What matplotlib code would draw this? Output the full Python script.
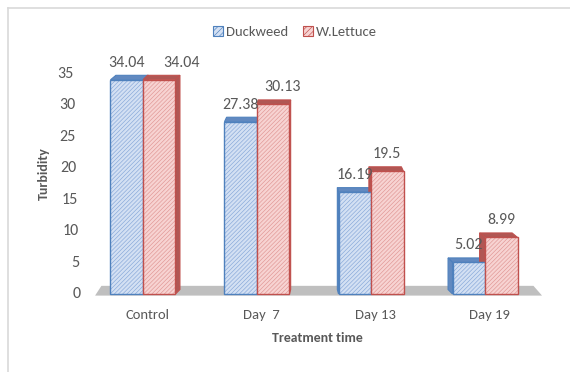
import matplotlib.pyplot as plt
from matplotlib.patches import Polygon, Rectangle
from matplotlib.lines import Line2D
import numpy as np

# turbidity per treatment time
categories = ["Control", "Day  7", "Day 13", "Day 19"]
duckweed = [34.04, 27.38, 16.19, 5.02]
lettuce = [34.04, 30.13, 19.5, 8.99]
series_names = ["Duckweed", "W.Lettuce"]
yticks = [0, 5, 10, 15, 20, 25, 30, 35]

plt.rcParams['hatch.linewidth'] = 0.45
plt.rcParams['font.family'] = ['Calibri', 'Carlito', 'Lato', 'DejaVu Sans']
txt = '#595959'

# front fill, hatch colour, edge colour, dark face colour
styles = [("#d3e0f3", "#86a7d8", "#4f81bd", "#6189c0"),
          ("#f7d3d2", "#e09593", "#c0504d", "#b05754")]

fig = plt.figure(figsize=(5.7, 3.72), dpi=100)
W, H = 570, 372
ax = fig.add_axes([92 / W, 1 - 300 / H, 444 / W, 230 / H])
ax.set_xlim(-0.447, 3.447)
ax.set_ylim(-0.95, 35.6)
ax.axis('off')

# pixels -> data units
sx = 444 / (3.447 + 0.447)
sy = 230 / (35.6 + 0.95)
xc = 1.5
k = 3.3          # px of sideways depth shift per category away from centre
dpy = 4.5 / sy   # vertical depth of bar tops

# floor
fx0, fx1 = -0.42, 3.5
floor = Polygon([(fx0, -0.25), (fx1, -0.25),
                 (fx1 + k * (xc - fx1) / sx * 1.3, 1.3),
                 (fx0 + k * (xc - fx0) / sx, 1.3)],
                closed=True, fc="#bfbfbf", ec='none', clip_on=False, zorder=1)
ax.add_patch(floor)

x = np.arange(len(categories))
w = 0.285
label_dx = [[0, 0, 0, 0], [16, 7, 0, 0]]

fronts = []
for si, vals in enumerate([duckweed, lettuce]):
    fill, hcol, edge, dark = styles[si]
    for i, v in enumerate(vals):
        x0 = x[i] - w + si * w
        x1 = x0 + w
        dx = k * (xc - (x0 + x1) / 2) / sx
        top = Polygon([(x0, v), (x1, v), (x1 + dx, v + dpy), (x0 + dx, v + dpy)],
                      closed=True, fc=dark, ec=edge, lw=0.8, clip_on=False,
                      zorder=2 + si)
        ax.add_patch(top)
        sxe = x1 if dx > 0 else x0
        side = Polygon([(sxe, 0), (sxe, v), (sxe + dx, v + dpy), (sxe + dx, dpy)],
                       closed=True, fc=dark, ec=edge, lw=0.8, clip_on=False,
                       zorder=2 + si)
        ax.add_patch(side)
        fronts.append((x0, v, si))
        ax.annotate(f"{v:g}", ((x0 + x1) / 2, v + dpy), xytext=(label_dx[si][i], 4),
                    textcoords='offset points', ha='center', va='bottom',
                    fontsize=11.5, color=txt, zorder=10)

# hatched front faces, outline drawn on top in the series colour
for x0, v, si in fronts:
    fill, hcol, edge, dark = styles[si]
    ax.add_patch(Rectangle((x0, 0), w, v, fc=fill, ec=hcol, hatch='////////',
                           lw=0, clip_on=False, zorder=4 + si))
    ax.add_patch(Rectangle((x0, 0), w, v, fc='none', ec=edge,
                           lw=1.0, clip_on=False, zorder=4.5 + si))

# y tick labels, drifting right towards the floor
for t in yticks:
    off_px = -18 + 7 * (35 - t) / 35
    ax.annotate(str(t), (-0.447, t), xytext=(off_px * 0.72, 0),
                textcoords='offset points', ha='right', va='center',
                fontsize=11.5, color=txt)

for i, c in enumerate(categories):
    ax.annotate(c, (x[i], 0), xytext=(3, -11), textcoords='offset points',
                ha='center', va='top', fontsize=10.5, color=txt)

fig.text(317 / W, 1 - 338 / H, "Treatment time", ha='center', va='center',
         fontsize=10, fontweight='bold', color=txt)
fig.text(44 / W, 1 - 174 / H, "Turbidity", ha='center', va='center',
         rotation=90, fontsize=10, fontweight='bold', color=txt)

handles = [Rectangle((0, 0), 1, 1, fc=styles[s][0], ec=styles[s][2],
                     hatch='//////', lw=0.8) for s in range(2)]
fig.legend(handles, series_names, loc='center', bbox_to_anchor=(295 / W, 1 - 32 / H),
           ncol=2, frameon=False, fontsize=10.5, handlelength=0.7, handleheight=0.7,
           handletextpad=0.2, columnspacing=1.0, labelcolor=txt)

fig.add_artist(Line2D([7.5 / W, 7.5 / W], [0, 1 - 7.5 / H], color='#d9d9d9', lw=1.2))
fig.add_artist(Line2D([7.5 / W, 1], [1 - 7.5 / H, 1 - 7.5 / H], color='#d9d9d9', lw=1.2))

fig.savefig("out.png", dpi=100)
